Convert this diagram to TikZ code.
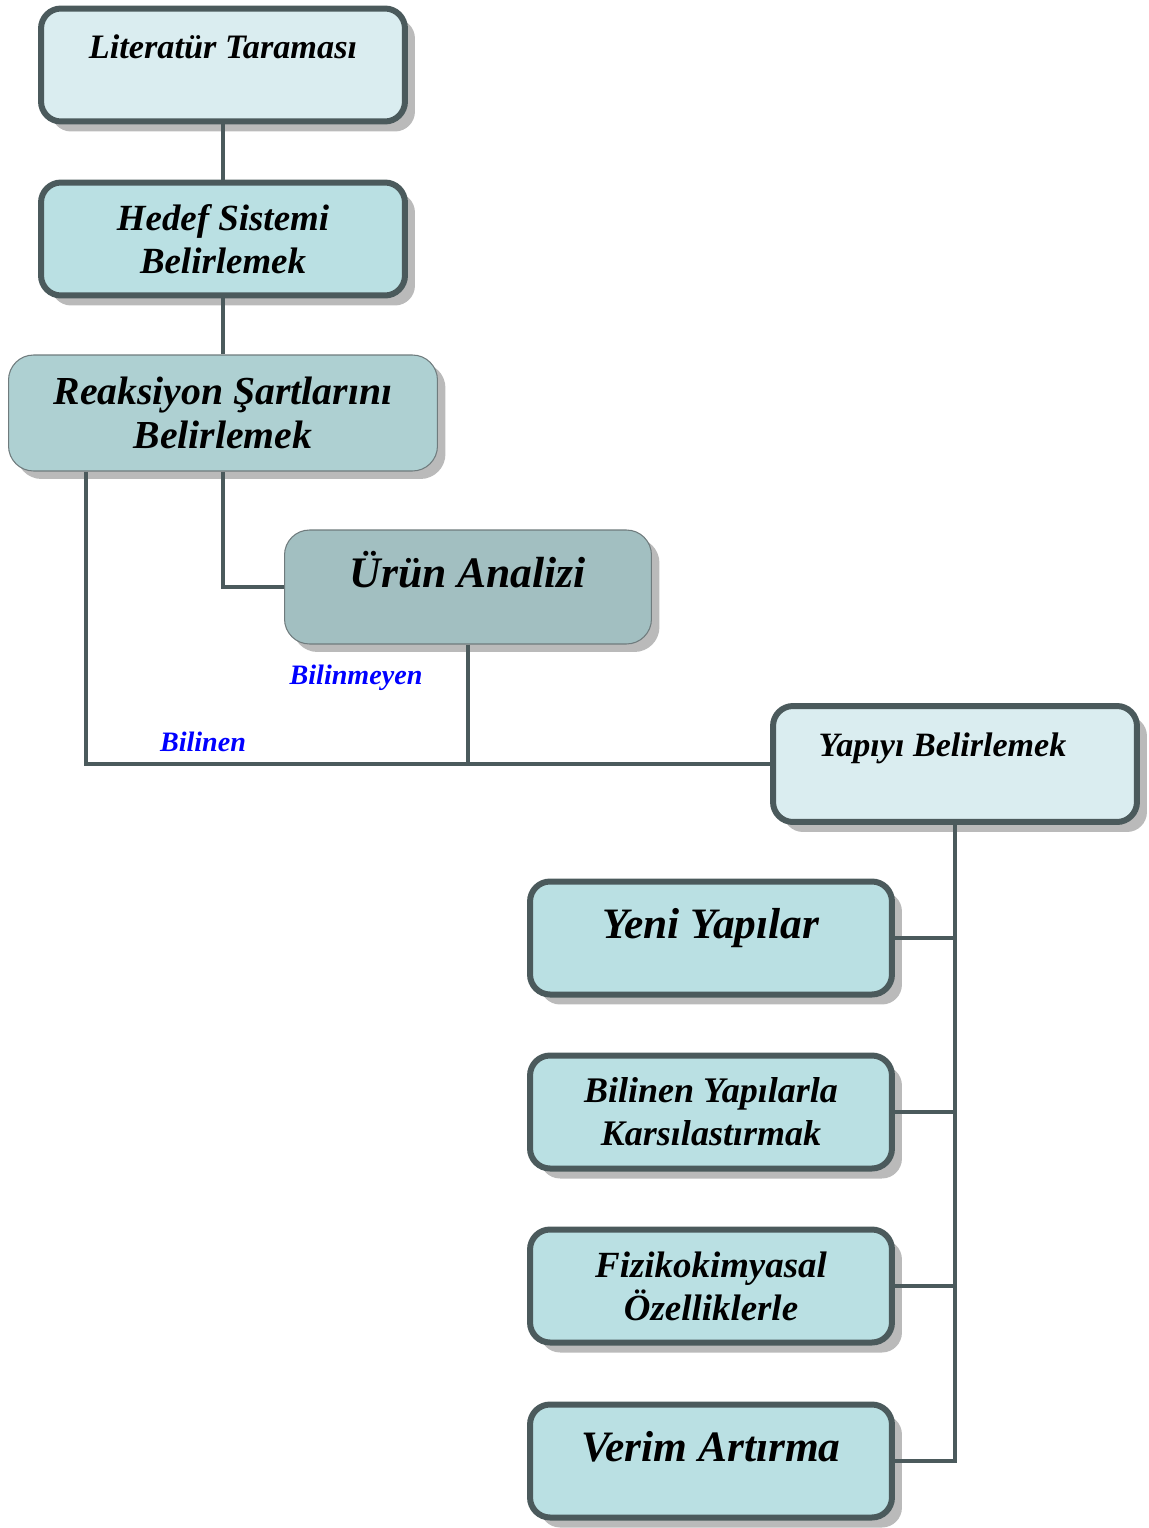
\documentclass[tikz,border=0pt]{standalone}
\usepackage{fontspec}
\setmainfont{Liberation Serif}
\usepackage{tikz}
\usetikzlibrary{shapes,arrows,shadows}

\definecolor{edge}{HTML}{4B5A5C}
\definecolor{pale}{HTML}{DAEDF0}
\definecolor{aqua}{HTML}{BAE0E3}
\definecolor{sage}{HTML}{AED0D2}
\definecolor{slate}{HTML}{A2BFC1}

\begin{document}
\begin{tikzpicture}[x=0.02cm, y=-0.02cm,
  box/.style={rectangle, rounded corners=0.4cm, draw=edge, line width=0.12cm, align=center,
    inner sep=0pt, minimum width=7.28cm, minimum height=2.26cm,
    drop shadow={shadow xshift=0.2cm, shadow yshift=-0.2cm, fill=black!45, opacity=0.6}},
  flat/.style={rectangle, rounded corners=0.5cm, draw=edge!80, line width=0.6pt, align=center,
    inner sep=0pt, minimum height=2.32cm,
    drop shadow={shadow xshift=0.16cm, shadow yshift=-0.16cm, fill=black!45, opacity=0.6}},
  link/.style={edge, line width=0.08cm},
  tag/.style={blue, font=\fontsize{16}{19}\selectfont\bfseries\itshape}]
\useasboundingbox (0,0) rectangle (1149,1528);

% left column
\node [box, fill=pale, text height=15pt, text depth=22pt,
  font=\fontsize{19.5}{23}\selectfont\bfseries\itshape] (lit) at (223,65) {Literatür Taraması};
\node [box, fill=aqua, font=\fontsize{21}{24.5}\selectfont\bfseries\itshape] (hedef) at (223,239) {Hedef Sistemi\\Belirlemek};
\node [flat, fill=sage, minimum width=8.58cm,
  font=\fontsize{22.6}{25.5}\selectfont\bfseries\itshape] (reak) at (223,413) {Reaksiyon Şartlarını\\Belirlemek};
\node [flat, fill=slate, minimum width=7.34cm, minimum height=2.28cm, text height=18pt, text depth=18pt,
  font=\fontsize{24.8}{28}\selectfont\bfseries\itshape] (urun) at (468,587) {Ürün Analizi};

% right column
\node [box, fill=pale, minimum height=2.32cm, text height=15pt, text depth=23pt,
  font=\fontsize{19.4}{23}\selectfont\bfseries\itshape] (yapi) at (955,764) {Yapıyı Belirlemek\hspace{0.5cm}};
\node [box, fill=aqua, minimum width=7.24cm, text height=18pt, text depth=18pt,
  font=\fontsize{24.7}{28}\selectfont\bfseries\itshape] (yeni) at (711,938) {Yeni Yapılar};
\node [box, fill=aqua, minimum width=7.24cm,
  font=\fontsize{20.5}{24.5}\selectfont\bfseries\itshape] (bilinen) at (711,1112) {Bilinen Yapılarla\\Karsılastırmak};
\node [box, fill=aqua, minimum width=7.24cm,
  font=\fontsize{21}{24.5}\selectfont\bfseries\itshape] (fizik) at (711,1286) {Fizikokimyasal\\Özelliklerle};
\node [box, fill=aqua, minimum width=7.24cm, text height=18pt, text depth=18pt,
  font=\fontsize{24.7}{28}\selectfont\bfseries\itshape] (verim) at (711,1461) {Verim Artırma};

\coordinate (split) at (86,764);

\draw [link] (lit) -- (hedef);
\draw [link] (hedef) -- (reak);
\draw [link] (reak.south) |- (urun.west);
\draw [link] (reak.south -| split) -- (split) -- (yapi.west);
\draw [link] (urun.south) -- (urun.south |- yapi.west);
\draw [link] (yapi.south) |- (verim.east);
\draw [link] (yeni.east) -- (yeni.east -| yapi.south);
\draw [link] (bilinen.east) -- (bilinen.east -| yapi.south);
\draw [link] (fizik.east) -- (fizik.east -| yapi.south);

\node [tag] (bilinmeyen) at (356,678) {Bilinmeyen};
\node [tag] (bilinentag) at (203,742) {Bilinen};
\end{tikzpicture}
\end{document}
